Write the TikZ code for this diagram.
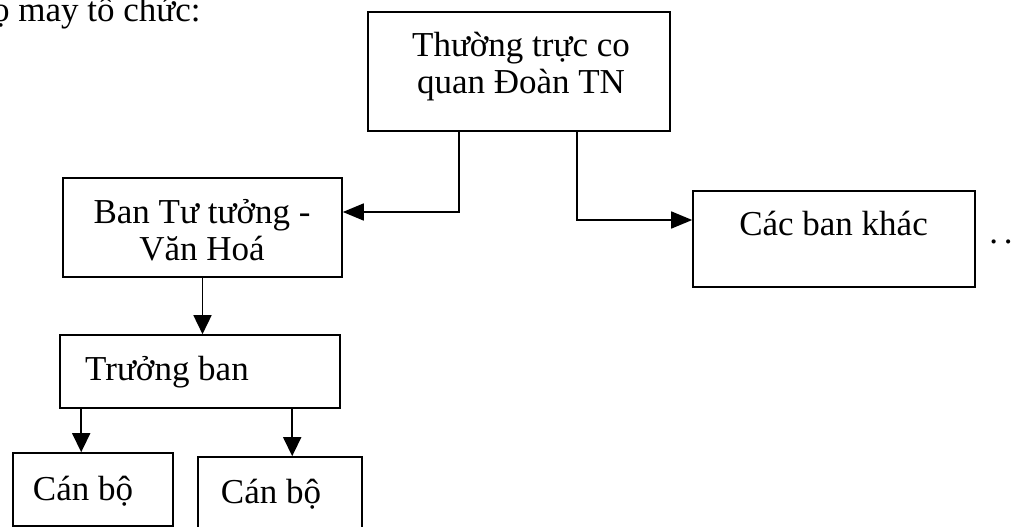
\documentclass[tikz,border=0pt]{standalone}
\usepackage{fontspec}
\setmainfont{Liberation Serif}
\usetikzlibrary{calc,arrows.meta}
\begin{document}
\begin{tikzpicture}[x=1pt,y=-1pt,
  box/.style={draw=black,line width=1.6pt,inner sep=0pt,rectangle},
  txt/.style={inner sep=0pt,font=\fontsize{35}{37}\selectfont,align=center,anchor=base},
  conn/.style={draw=black,line width=1.6pt,-{Triangle[length=21pt,width=17pt]}},
  conns/.style={draw=black,line width=1.6pt,-{Triangle[length=19pt,width=18pt]}}]
\useasboundingbox (0,0) rectangle (1020,527);
\clip (0,0) rectangle (1020,527);
% boxes
\node[box,minimum width=302pt,minimum height=119pt] (T) at (519,71.5) {};
\node[box,minimum width=279pt,minimum height=99pt] (B) at (202.5,227.5) {};
\node[box,minimum width=282pt,minimum height=96pt] (K) at (834,239) {};
\node[box,minimum width=280pt,minimum height=73pt] (TB) at (200,371.5) {};
\node[box,minimum width=160pt,minimum height=73pt] (C1) at (93,489.5) {};
\node[box,minimum width=164pt,minimum height=73pt] (C2) at (280,493.5) {};
% texts (base anchor of a two-line text = baseline of its last line)
\node[txt,anchor=base west] (head) at (-8,22) {ọ may tổ chức:};
\node[txt] (Tt) at (521,93) {Thường trực co\\quan Đoàn TN};
\node[txt] (Bt) at (202,260) {Ban Tư tưởng -\\Văn Hoá};
\node[txt] (Kt) at (833.5,235) {Các ban khác};
\node[txt,anchor=base west] (TBt) at (85,380) {Trưởng ban};
\node[txt] (C1t) at (83,500) {Cán bộ};
\node[txt] (C2t) at (271,503) {Cán bộ};
\node[txt] (dots) at (1001,243) {.\kern6pt.};
% connector start points
\coordinate (s1) at ($(T.south west)+(92,0)$);
\coordinate (s2) at ($(T.south west)+(210,0)$);
\coordinate (e1) at ($(B.east)+(0,-15.5)$);
\coordinate (e2) at ($(K.west)+(0,-19)$);
\coordinate (s4) at ($(TB.south west)+(22,0)$);
\coordinate (s5) at ($(TB.south west)+(233,0)$);
% connectors
\draw[conn] (s1) |- (e1);
\draw[conn] (s2) |- (e2);
\draw[conns] (B.south) -- (B.south |- TB.north);
\draw[conns] (s4) -- (s4 |- C1.north);
\draw[conns] (s5) -- (s5 |- C2.north);
\end{tikzpicture}
\end{document}
